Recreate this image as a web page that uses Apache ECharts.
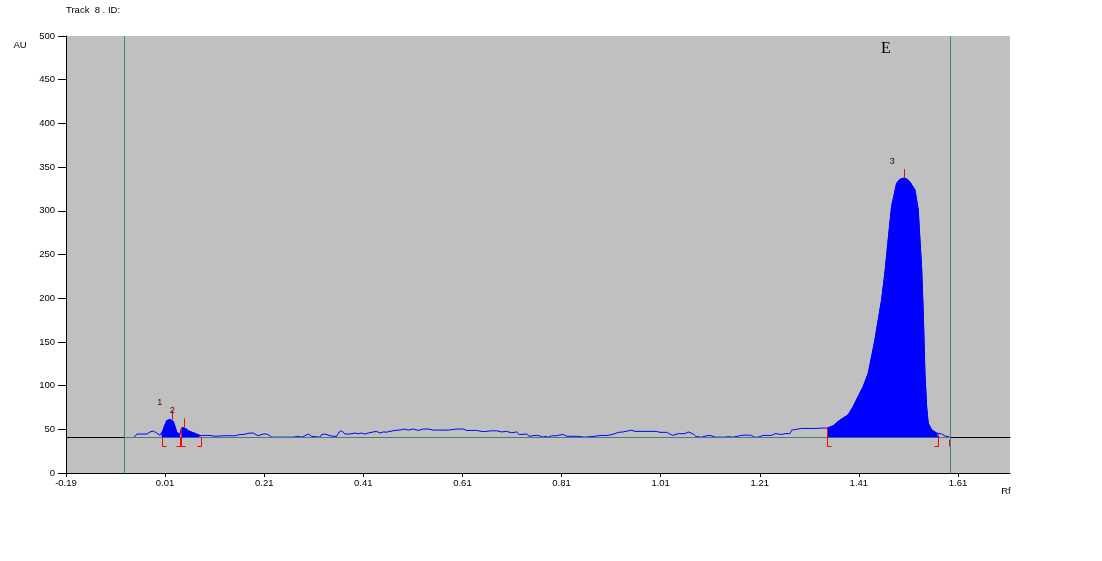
<!DOCTYPE html>
<html><head><meta charset="utf-8">
<script src="https://cdn.jsdelivr.net/npm/echarts@6/dist/echarts.min.js"></script>
<style>html,body{margin:0;padding:0;background:#fff}#c{width:1102px;height:561px}</style>
</head><body><div id="c"></div>
<script>
// ---- data ----
const rfTicks = [-0.19, 0.01, 0.21, 0.41, 0.61, 0.81, 1.01, 1.21, 1.41, 1.61];
const xMin = -0.19, xMax = 1.715;
const yMin = 0, yMax = 500, yStep = 50;

const traceRf = [-0.0528,-0.0467,-0.0266,-0.0205,-0.0138,-0.0104,-0.0070,-0.0003,0.0031,0.0063,0.0098,0.0132,0.0164,0.0199,0.0233,0.0265,0.0299,0.0334,0.0366,0.0400,
0.0420,0.0447,0.0481,0.0521,0.0568,0.0636,0.0703,0.0770,0.0818,0.0864,0.1006,0.1107,0.1262,0.1510,0.1544,0.1611,0.1672,0.1712,0.1813,0.1879,
0.1934,0.1980,0.2015,0.2081,0.2150,0.2202,0.2230,0.2251,0.2687,0.2701,0.2787,0.2856,0.2923,0.2989,0.3058,0.3078,0.3225,0.3259,0.3326,0.3427,
0.3488,0.3562,0.3615,0.3663,0.3730,0.3831,0.3931,0.3998,0.4067,0.4133,0.4200,0.4301,0.4369,0.4436,0.4502,0.4571,0.4638,0.4739,0.4874,0.4940,
0.5007,0.5108,0.5209,0.5310,0.5411,0.5511,0.5647,0.5814,0.5983,0.6117,0.6185,0.6387,0.6520,0.6690,0.6791,0.6892,0.6992,0.7093,0.7194,0.7247,
0.7261,0.7396,0.7449,0.7563,0.7630,0.7664,0.7725,0.7771,0.7832,0.7901,0.8001,0.8054,0.8135,0.8203,0.8405,0.8437,0.8472,0.8572,0.8593,0.8774,
0.8875,0.9043,0.9077,0.9178,0.9244,0.9345,0.9446,0.9515,0.9581,1.0019,1.0086,1.0221,1.0288,1.0342,1.0388,1.0455,1.0590,1.0657,1.0691,1.0758,
1.0812,1.0832,1.0927,1.0947,1.1060,1.1129,1.1161,1.1196,1.1397,1.1431,1.1464,1.1559,1.1599,1.1734,1.1835,1.1936,1.1968,1.1988,1.2069,1.2090,
1.2170,1.2340,1.2406,1.2473,1.2541,1.2608,1.2709,1.2743,1.2844,1.2945,1.3012,1.3046,1.3112,1.3248,1.3349,1.3449,1.3462,1.3583,1.3684,1.3785,
1.3885,1.3986,1.4087,1.4188,1.4289,1.4357,1.4424,1.4491,1.4559,1.4626,1.4692,1.4761,1.4862,1.4930,1.5015,1.5080,1.5130,1.5231,1.5298,1.5332,
1.5366,1.5399,1.5433,1.5467,1.5499,1.5568,1.5669,1.5701,1.5770,1.5837,1.5937];
const traceAU = [41,44.6,44.6,47,48,48.3,45.7,43,44,49.5,55.3,59.8,60.5,61.3,60.9,59,53.3,46.8,44.6,44,
49.5,52.2,52.2,50.7,48.3,46.8,45.3,43.8,42.6,43,43,42,42.6,42.6,44.6,44,44,45,45.7,45.7,
44,42.6,44,44.6,44.6,43,41.9,41,41,42,42,41,42.6,44.6,41.9,41,41,44,44.6,42.6,
42,42,47,48.3,44.6,44.6,45.7,45,45.7,44.6,45.7,47,47.6,45.7,47,46.7,47.6,48.7,49.5,50.3,
49.1,50.3,48.7,50.3,50.3,49.1,49.1,49.1,50.3,50.3,48.7,48.7,47.3,48.3,48.3,47,47.6,46,47,44,
44.6,44.6,42,43,43,41.5,41,42,41,42.6,42.6,43.4,44,42,42,43,41.5,41,42,42,
43,43,45,45,46.5,47,48.3,49,47.6,47.6,46.5,46.5,44.6,43,43.8,45,45,47,48.3,44.6,
41.7,41,41,42.6,43,42.6,41.5,41,41,42.6,41.5,41,42.6,43,43.4,43,41.8,41,41,42.6,
43,43,45,44.6,44,45,45,49,50,51,51,50,51,51,51.4,51.4,51,54,59,63,
66.6,76,87.6,99,114,133,152,175,198,229,267,305,331.5,336,337.5,336,333,324,301,267,
235,183,114,76,57,49.5,45.7,43.8,44.7,42.4,41];

const baselineAU = 41;
const windowRf = [-0.0724, 1.5943];
const peakRanges = [[0.0031, 0.0400], [0.0420, 0.0818], [1.3462, 1.5701]];
const peakApexRf = [0.0233, 0.0487, 1.5015];
const peakApexAU = [61, 52.2, 337.5];
const peakLabels = ['1', '2', '3'];
const bracketRf = [0.0031, 0.0400, 0.0420, 0.0818, 1.3462, 1.5701, 1.5917];
const bracketTopAU = [41, 41, 51, 41, 51, 44, 38];
const bracketDir = [1, -1, 1, -1, 1, -1, 0];

// ---- chart ----
const FONT = "'Liberation Sans', Arial, sans-serif";
const trace = traceRf.map((r, i) => [r, traceAU[i]]);
const chart = echarts.init(document.getElementById('c'), null, {renderer: 'canvas'});

const refLines = [
  {data: [[xMin, baselineAU, xMax, baselineAU]], color: '#000000'},
  {data: [[windowRf[0], baselineAU, windowRf[1], baselineAU]], color: '#408080'},
  {data: [[windowRf[0], yMin, windowRf[0], yMax], [windowRf[1], yMin, windowRf[1], yMax]], color: '#408080'}
];

const series = [];
series.push({
  type: 'line', data: trace, showSymbol: false, symbol: 'none', z: 2,
  lineStyle: {color: '#0000ff', width: 1}, animation: false, silent: true
});
refLines.forEach(rl => series.push({
  type: 'custom', data: rl.data, z: 3, animation: false, silent: true,
  renderItem: (params, api) => {
    const a = api.coord([api.value(0), api.value(1)]);
    const b = api.coord([api.value(2), api.value(3)]);
    return {type: 'line', shape: {x1: Math.round(a[0]) + 0.5, y1: Math.round(a[1]) + 0.5, x2: Math.round(b[0]) + 0.5, y2: Math.round(b[1]) + 0.5},
      style: {stroke: rl.color, lineWidth: 1}};
  }
}));
peakRanges.forEach(pr => series.push({
  type: 'line', data: trace.filter(p => p[0] >= pr[0] - 1e-9 && p[0] <= pr[1] + 1e-9),
  showSymbol: false, symbol: 'none', z: 4, animation: false, silent: true,
  lineStyle: {color: '#0000ff', width: 1},
  areaStyle: {color: '#0000ff', opacity: 1, origin: baselineAU}
}));
series.push({
  type: 'custom', z: 6, animation: false, silent: true,
  data: bracketRf.map((r, i) => [r, bracketTopAU[i], bracketDir[i]]),
  renderItem: (params, api) => {
    const top = api.coord([api.value(0), api.value(1)]);
    const base = api.coord([api.value(0), baselineAU]);
    const x = Math.round(top[0]) + 0.5;
    const yb = Math.round(base[1]) + 9.5;
    const pts = [[x, top[1]], [x, yb]];
    const d = api.value(2);
    if (d) pts.push([x + d * 4, yb]);
    return {type: 'polyline', shape: {points: pts}, style: {stroke: '#ff0000', lineWidth: 1, fill: null}};
  }
});
series.push({
  type: 'custom', z: 6, animation: false, silent: true,
  data: peakApexRf.map((r, i) => [r, peakApexAU[i]]),
  renderItem: (params, api) => {
    const p = api.coord([api.value(0), api.value(1)]);
    const x = Math.round(p[0]) + 0.5;
    return {type: 'group', children: [
      {type: 'line', shape: {x1: x, y1: p[1], x2: x, y2: p[1] - 9}, style: {stroke: '#ff0000', lineWidth: 1}},
      {type: 'text', style: {text: peakLabels[params.dataIndex], x: p[0] - 12, y: p[1] - 17,
        align: 'center', verticalAlign: 'middle', font: '9px ' + FONT, fill: '#400000'}}
    ]};
  }
});

chart.setOption({
  animation: false,
  backgroundColor: '#ffffff',
  grid: {left: 66, right: 92, top: 36, bottom: 88, show: true, backgroundColor: '#c0c0c0', borderWidth: 0, containLabel: false},
  xAxis: {
    type: 'value', min: xMin, max: xMax,
    axisLine: {show: true, onZero: false, lineStyle: {color: '#000', width: 1}},
    axisTick: {show: true, length: 4, customValues: rfTicks, lineStyle: {color: '#000'}},
    axisLabel: {customValues: rfTicks, formatter: v => v.toFixed(2), margin: 5, fontSize: 9.5, fontFamily: FONT, color: '#000'},
    splitLine: {show: false}
  },
  yAxis: {
    type: 'value', min: yMin, max: yMax, interval: yStep,
    axisLine: {show: true, onZero: false, lineStyle: {color: '#000', width: 1}},
    axisTick: {show: true, length: 8, lineStyle: {color: '#000'}},
    axisLabel: {margin: 11, fontSize: 9.5, fontFamily: FONT, color: '#000'},
    splitLine: {show: false}
  },
  graphic: [
    {type: 'text', left: 66, top: 5, style: {text: 'Track  8 . ID:', font: '9.5px ' + FONT, fill: '#000'}},
    {type: 'text', x: 20, y: 45.5, style: {text: 'AU', font: '9.5px ' + FONT, fill: '#000', align: 'center', verticalAlign: 'middle'}},
    {type: 'text', x: 1006, y: 491.5, style: {text: 'Rf', font: '9.5px ' + FONT, fill: '#000', align: 'center', verticalAlign: 'middle'}},
    {type: 'text', x: 886, y: 48.5, style: {text: 'E', font: '16px "Liberation Serif", "Times New Roman", serif', fill: '#000', align: 'center', verticalAlign: 'middle'}, z: 10}
  ],
  series: series
});
</script>
</body></html>
